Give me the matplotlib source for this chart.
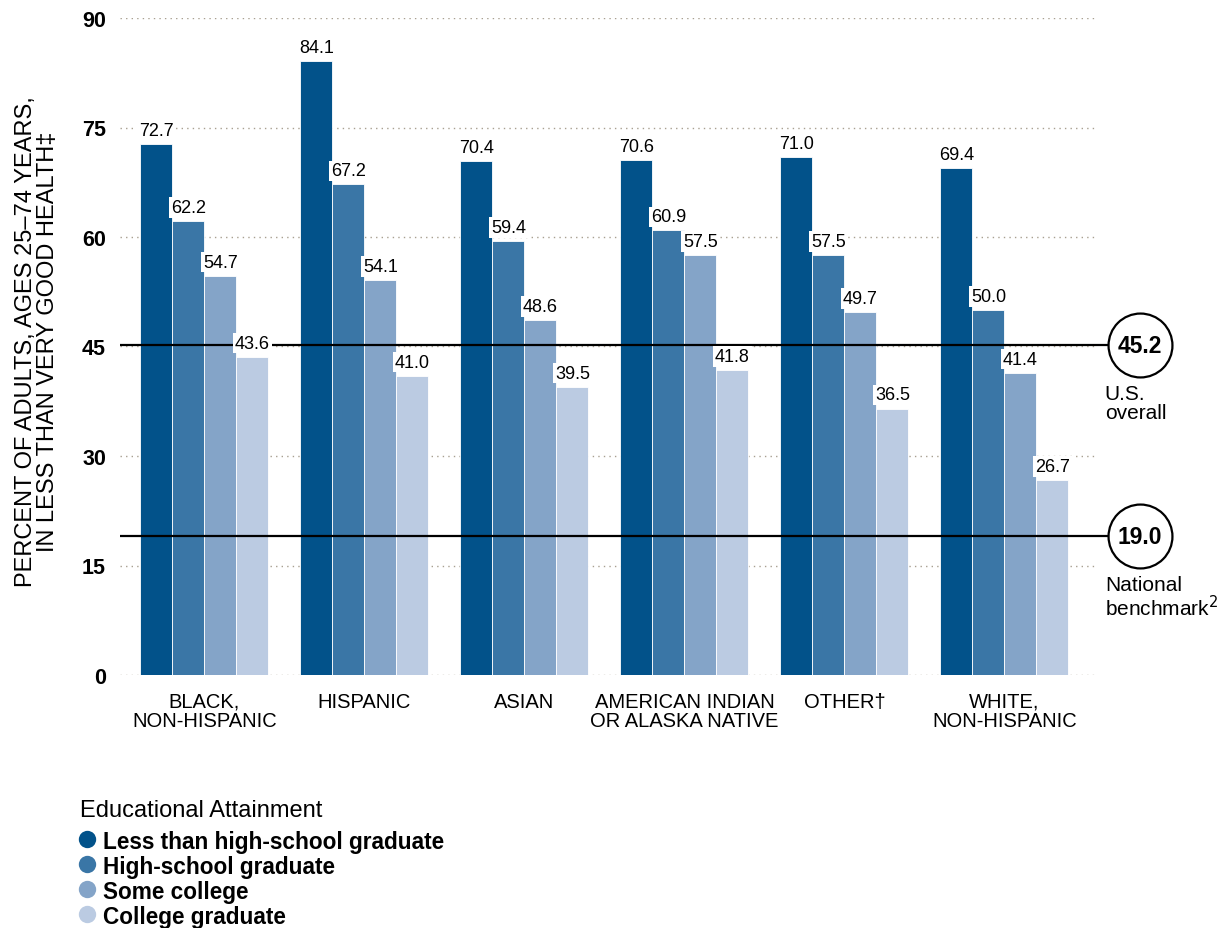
import numpy as np
import matplotlib

matplotlib.use("Agg")
import matplotlib.pyplot as plt
from matplotlib.lines import Line2D

# ── Data ────────────────────────────────────────────────────────
groups = ["BLACK,\nNON-HISPANIC", "HISPANIC", "ASIAN",
          "AMERICAN INDIAN\nOR ALASKA NATIVE", "OTHER\u2020", "WHITE,\nNON-HISPANIC"]
series = ["Less than high-school graduate", "High-school graduate",
          "Some college", "College graduate"]
less_hs = [72.7, 84.1, 70.4, 70.6, 71.0, 69.4]
hs_grad = [62.2, 67.2, 59.4, 60.9, 57.5, 50.0]
some_col = [54.7, 54.1, 48.6, 57.5, 49.7, 41.4]
col_grad = [43.6, 41.0, 39.5, 41.8, 36.5, 26.7]
us_overall = 45.2
benchmark = 19.0
yticks = [0, 15, 30, 45, 60, 75, 90]

colors = ["#02528A", "#3A76A6", "#84A4C8", "#BBCBE2"]

plt.rcParams["font.family"] = ["Liberation Sans", "DejaVu Sans"]

W, H = 1230, 929
fig = plt.figure(figsize=(W / 100, H / 100), dpi=100)
ax = fig.add_axes([120 / W, 1 - 676 / H, 975 / W, 657 / H])

x = np.arange(len(groups))
width = 0.2
values = [less_hs, hs_grad, some_col, col_grad]

# dotted gridlines
for yt in yticks:
    ax.axhline(yt, color="#A89F90", linestyle=(0, (1, 3)), linewidth=1.0, zorder=0)

for i, vals in enumerate(values):
    pos = x + (i - 1.5) * width
    ax.bar(pos, vals, width=width, color=colors[i], edgecolor="white",
           linewidth=0.6, zorder=2)
    for px, v in zip(pos, vals):
        ax.text(px, v + 0.7, f"{v:.1f}", ha="center", va="bottom", fontsize=13,
                zorder=5,
                bbox=dict(boxstyle="square,pad=0.1", facecolor="white",
                          edgecolor="none"))

# reference lines with circled values
x_left = -0.528
x_right = 5.566
x_line_end = 5.647
x_circle = 5.847
for val, note in [(us_overall, "U.S.\noverall"),
                  (benchmark, "National\nbenchmark$^2$")]:
    ax.plot([x_left, x_line_end], [val, val], color="black", linewidth=1.6,
            zorder=4, clip_on=False, solid_capstyle="butt")
    ax.plot([x_circle], [val], marker="o", markersize=46, markerfacecolor="white",
            markeredgecolor="black", markeredgewidth=1.6, clip_on=False, zorder=6)
    ax.text(x_circle, val, f"{val:.1f}", ha="center", va="center",
            fontsize=16.5, fontweight="bold", zorder=7, clip_on=False)
    ax.text(x_line_end - 0.02, val - 5.3, note, ha="left", va="top",
            fontsize=15, linespacing=1.0, clip_on=False)

ax.set_xlim(x_left, x_right)
ax.set_ylim(0, 90)
ax.set_yticks(yticks)
ax.set_yticklabels([str(t) for t in yticks], fontsize=15.5, fontweight="bold")
ax.set_xticks(x)
ax.set_xticklabels(groups, fontsize=14.5, linespacing=1.0)
ax.tick_params(axis="both", length=0)
ax.tick_params(axis="y", pad=10)
ax.tick_params(axis="x", pad=12)
for s in ax.spines.values():
    s.set_visible(False)

fig.text(37 / W, 1 - 342 / H,
         "PERCENT OF ADULTS, AGES 25\u201374 YEARS,\nIN LESS THAN VERY GOOD HEALTH\u2021",
         rotation=90, ha="center", va="center", fontsize=17, linespacing=1.0)

# legend drawn by hand
fig.text(80 / W, 1 - 817 / H, "Educational Attainment", fontsize=17,
         ha="left", va="baseline")
for i, (lab, c) in enumerate(zip(series, colors)):
    yc = 1 - (840 + 25 * i) / H
    fig.add_artist(Line2D([87 / W], [yc], transform=fig.transFigure, marker="o",
                          markersize=12.5, markerfacecolor=c,
                          markeredgecolor="none", linestyle="none"))
    fig.text(103 / W, yc, lab, fontsize=16.3, fontweight="bold",
             ha="left", va="center_baseline")

fig.savefig("out.png", dpi=100)
